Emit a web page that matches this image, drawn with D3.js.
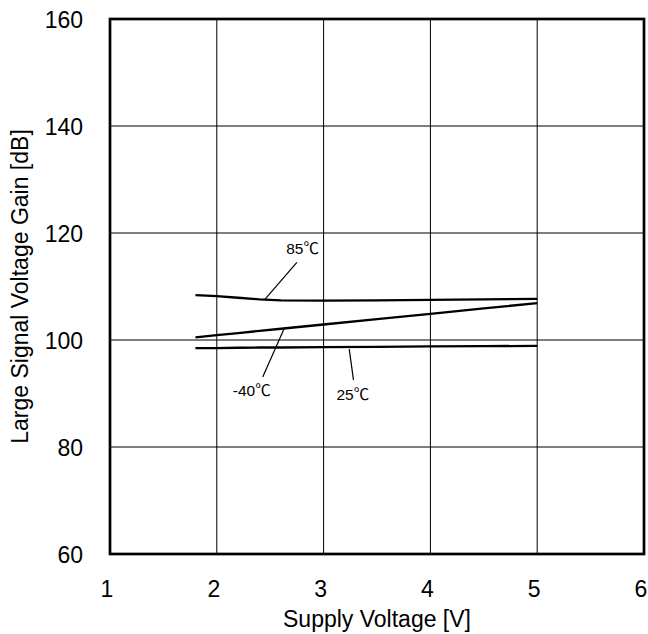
<!DOCTYPE html>
<html>
<head>
<meta charset="utf-8">
<script src="https://cdn.jsdelivr.net/npm/d3@7"></script>
<style>
  html, body { margin: 0; padding: 0; background: #fff; }
  svg { display: block; }
  text { font-family: "Liberation Sans", Arial, "Noto Sans CJK JP", sans-serif; fill: #000; }
</style>
</head>
<body>
<script>
// ---- Data ----
const voltage = [1.8, 2.0, 2.2, 2.4, 2.6, 3.0, 3.5, 4.0, 4.5, 5.0];
const gain85 = [108.4, 108.2, 107.9, 107.6, 107.4, 107.35, 107.4, 107.5, 107.6, 107.7];
const gainM40 = [100.5, 100.9, 101.3, 101.7, 102.1, 102.9, 103.9, 104.9, 105.9, 106.9];
const gain25 = [98.5, 98.5, 98.55, 98.6, 98.6, 98.65, 98.7, 98.8, 98.85, 98.9];

const xTicks = [1, 2, 3, 4, 5, 6];
const yTicks = [60, 80, 100, 120, 140, 160];

const labelTexts = ["85℃", "-40℃", "25℃"];
const labelX = [2.65, 2.15, 3.12];
const labelY = [116.1, 89.5, 88.8];
const leaderFrom = [[2.75, 114.5], [2.43, 93.1], [3.28, 92.5]];
const leaderTo = [[2.45, 107.6], [2.63, 102.1], [3.24, 98.3]];

const xTitle = "Supply Voltage [V]";
const yTitle = "Large Signal Voltage Gain [dB]";

// ---- Layout ----
const W = 648, H = 634;
const mLeft = 110, mRight = 644, mTop = 19, mBottom = 554;

const svg = d3.select("body").append("svg").attr("width", W).attr("height", H);

const x = d3.scaleLinear().domain([1, 6]).range([mLeft, mRight]);
const y = d3.scaleLinear().domain([60, 160]).range([mBottom, mTop]);

// Grid lines
const grid = svg.append("g");
grid.selectAll("line.v").data(xTicks.slice(1, -1)).enter().append("line")
  .attr("x1", d => x(d)).attr("x2", d => x(d))
  .attr("y1", mTop).attr("y2", mBottom)
  .attr("stroke", "#000").attr("stroke-width", 1);
grid.selectAll("line.h").data(yTicks.slice(1, -1)).enter().append("line")
  .attr("x1", mLeft).attr("x2", mRight)
  .attr("y1", d => y(d)).attr("y2", d => y(d))
  .attr("stroke", "#000").attr("stroke-width", 1);

// Axes (labels only)
const xAxis = d3.axisBottom(x).tickValues(xTicks).tickSize(0).tickPadding(0).tickFormat(d3.format("d"));
const gx = svg.append("g").attr("transform", `translate(0,${mBottom})`).call(xAxis);
gx.select(".domain").remove();
gx.selectAll("text").attr("font-size", 23).attr("dy", null).attr("y", 43).attr("dx", -3.5)
  .attr("font-family", '"Liberation Sans", Arial, sans-serif');

const yAxis = d3.axisLeft(y).tickValues(yTicks).tickSize(0).tickPadding(0).tickFormat(d3.format("d"));
const gy = svg.append("g").attr("transform", `translate(${mLeft},0)`).call(yAxis);
gy.select(".domain").remove();
gy.selectAll("text").attr("font-size", 23).attr("x", -27).attr("dy", "0.36em")
  .attr("font-family", '"Liberation Sans", Arial, sans-serif');

// Frame
svg.append("rect")
  .attr("x", mLeft).attr("y", mTop)
  .attr("width", mRight - mLeft).attr("height", mBottom - mTop)
  .attr("fill", "none").attr("stroke", "#000").attr("stroke-width", 2.7);

// Series
const line = d3.line().x(d => x(d[0])).y(d => y(d[1]));
[gain85, gainM40, gain25].forEach(s => {
  svg.append("path")
    .datum(voltage.map((v, i) => [v, s[i]]))
    .attr("d", line)
    .attr("fill", "none").attr("stroke", "#000").attr("stroke-width", 2.3);
});

// Leader lines + labels
labelTexts.forEach((t, i) => {
  svg.append("line")
    .attr("x1", x(leaderFrom[i][0])).attr("y1", y(leaderFrom[i][1]))
    .attr("x2", x(leaderTo[i][0])).attr("y2", y(leaderTo[i][1]))
    .attr("stroke", "#000").attr("stroke-width", 1.2);
  svg.append("text")
    .attr("x", x(labelX[i])).attr("y", y(labelY[i]))
    .attr("font-size", 15.5)
    .text(t);
});

// Titles
svg.append("text")
  .attr("x", (mLeft + mRight) / 2).attr("y", 627)
  .attr("text-anchor", "middle").attr("font-size", 23)
  .text(xTitle);
svg.append("text")
  .attr("transform", `translate(28,${(mTop + mBottom) / 2}) rotate(-90)`)
  .attr("text-anchor", "middle").attr("font-size", 23)
  .text(yTitle);
</script>
</body>
</html>
